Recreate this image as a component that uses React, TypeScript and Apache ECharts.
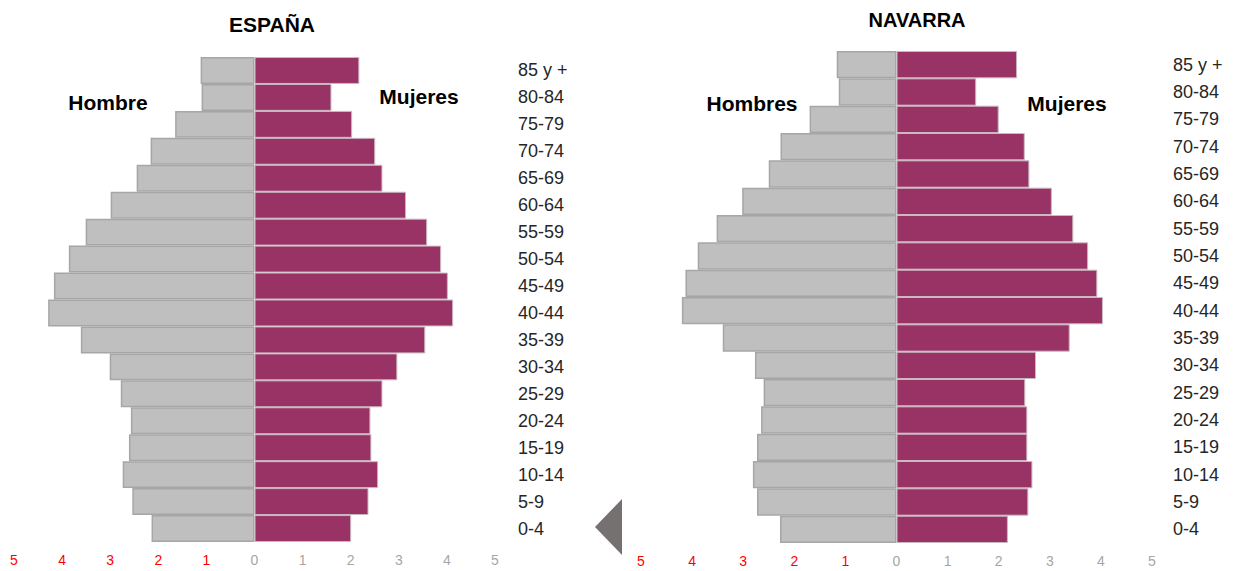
import React, { useEffect, useRef } from "react";
import * as echarts from "echarts";

const ageGroups = [
  "85 y +", "80-84", "75-79", "70-74", "65-69", "60-64", "55-59", "50-54", "45-49",
  "40-44", "35-39", "30-34", "25-29", "20-24", "15-19", "10-14", "5-9", "0-4",
];

const espanaHombres = [1.12, 1.10, 1.65, 2.16, 2.45, 2.99, 3.51, 3.86, 4.17, 4.29, 3.61, 3.01, 2.78, 2.57, 2.61, 2.74, 2.54, 2.14];
const espanaMujeres = [2.18, 1.60, 2.03, 2.51, 2.66, 3.15, 3.59, 3.88, 4.02, 4.13, 3.55, 2.97, 2.66, 2.41, 2.43, 2.57, 2.37, 2.01];
const navarraHombres = [1.17, 1.13, 1.70, 2.27, 2.50, 3.02, 3.52, 3.89, 4.13, 4.20, 3.40, 2.77, 2.60, 2.65, 2.73, 2.81, 2.73, 2.28];
const navarraMujeres = [2.36, 1.56, 2.00, 2.51, 2.60, 3.04, 3.46, 3.75, 3.93, 4.04, 3.39, 2.73, 2.52, 2.56, 2.56, 2.66, 2.58, 2.18];

const FONT = "'Liberation Sans', Arial, sans-serif";
const MALE = "#bfbfbf";
const MALE_BORDER = "#a6a6a6";
const FEMALE = "#993366";
const FEMALE_BORDER = "#c9b9c1";

function xAxisFor(gridIndex: number) {
  return {
    gridIndex,
    type: "value",
    min: -5,
    max: 5,
    interval: 1,
    axisLine: { show: false },
    axisTick: { show: false },
    splitLine: { show: false },
    axisLabel: {
      margin: 11,
      fontFamily: FONT,
      fontSize: 14,
      formatter: (v: number) => (v < 0 ? `{r|${Math.abs(v)}}` : `{g|${v}}`),
      rich: {
        r: { color: "#ff0000", fontSize: 14, fontFamily: FONT },
        g: { color: "#a6a6a6", fontSize: 14, fontFamily: FONT },
      },
    },
  };
}

function yAxisFor(gridIndex: number, margin: number) {
  return {
    gridIndex,
    type: "category",
    data: ageGroups,
    inverse: true,
    position: "right",
    axisLine: { show: false },
    axisTick: { show: false },
    splitLine: { show: false },
    axisLabel: {
      margin,
      align: "left",
      color: "#262626",
      fontFamily: FONT,
      fontSize: 18,
    },
  };
}

function barsFor(idx: number, hombres: number[], mujeres: number[]) {
  return [
    {
      type: "bar",
      xAxisIndex: idx,
      yAxisIndex: idx,
      data: hombres.map((v) => -v),
      barCategoryGap: "0%",
      barGap: "-100%",
      itemStyle: { color: MALE, borderColor: MALE_BORDER, borderWidth: 1.5 },
    },
    {
      type: "bar",
      xAxisIndex: idx,
      yAxisIndex: idx,
      data: mujeres,
      barCategoryGap: "0%",
      barGap: "-100%",
      itemStyle: { color: FEMALE, borderColor: FEMALE_BORDER, borderWidth: 1 },
    },
  ];
}

function label(text: string, x: number, y: number, size: number) {
  return {
    type: "text",
    x,
    y,
    style: {
      text,
      fill: "#000000",
      font: `bold ${size}px ${FONT}`,
      align: "center",
      verticalAlign: "middle",
    },
  };
}

export default function App() {
  const ref = useRef<HTMLDivElement>(null);

  useEffect(() => {
    if (!ref.current) return;
    const chart = echarts.init(ref.current, undefined, { renderer: "svg" });
    chart.setOption({
      animation: false,
      backgroundColor: "#ffffff",
      textStyle: { fontFamily: FONT },
      grid: [
        { left: 14, top: 57, width: 481, height: 485 },
        { left: 641, top: 51, width: 511, height: 492 },
      ],
      xAxis: [xAxisFor(0), xAxisFor(1)],
      yAxis: [yAxisFor(0, 23), yAxisFor(1, 21)],
      series: [...barsFor(0, espanaHombres, espanaMujeres), ...barsFor(1, navarraHombres, navarraMujeres)],
      graphic: [
        label("ESPAÑA", 272, 24, 21),
        label("NAVARRA", 917, 20, 20),
        label("Hombre", 108, 102, 21),
        label("Mujeres", 419, 96, 21),
        label("Hombres", 752, 103, 21),
        label("Mujeres", 1067, 103, 21),
        {
          type: "polygon",
          shape: { points: [[595, 527], [622, 499], [622, 555]] },
          style: { fill: "#767171" },
        },
      ],
    });
    return () => chart.dispose();
  }, []);

  return (
    <div
      ref={ref}
      style={{ position: "absolute", left: 0, top: 0, width: 1236, height: 571 }}
    />
  );
}
